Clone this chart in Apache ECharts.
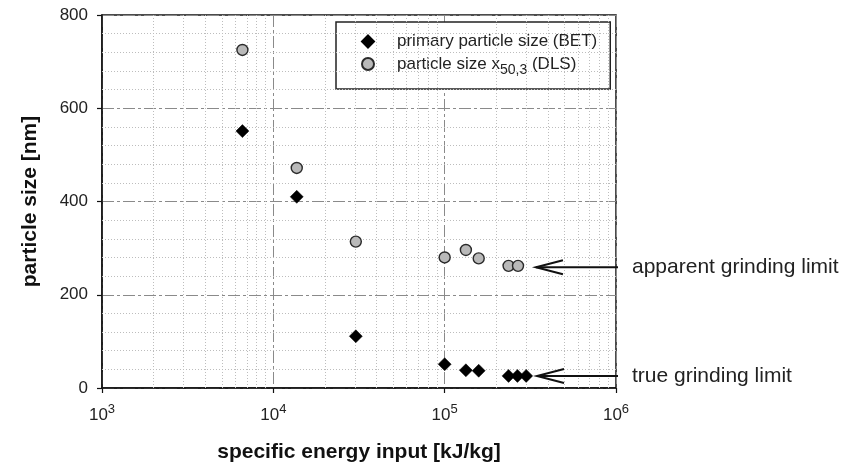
<!DOCTYPE html>
<html>
<head>
<meta charset="utf-8">
<script src="https://cdn.jsdelivr.net/npm/echarts@6/dist/echarts.min.js"></script>
<style>
  html, body { margin: 0; padding: 0; background: #fff; }
  #chart { width: 845px; height: 470px; }
</style>
</head>
<body>
<div id="chart"></div>
<script>
// Specific energy input [kJ/kg] and measured sizes [nm]
const energyBET = [6600, 13700, 30300, 100000, 133000, 158000, 236000, 266000, 299000];
const sizeBET   = [551, 410, 111, 51, 38, 37, 26, 26, 26];
const energyDLS = [6600, 13700, 30300, 100000, 133000, 158000, 236000, 268000];
const sizeDLS   = [725, 472, 314, 280, 296, 278, 262, 262];

// Axis ticks and grid positions
const xExponents = [3, 4, 5, 6];
const yTicks = [0, 200, 400, 600, 800];
const minorX = [2000, 3000, 4000, 5000, 6000, 7000, 8000, 9000,
                20000, 30000, 40000, 50000, 60000, 70000, 80000, 90000,
                200000, 300000, 400000, 500000, 600000, 700000, 800000, 900000];
const minorY = [40, 80, 120, 160, 240, 280, 320, 360, 440, 480, 520, 560, 640, 680, 720, 760];

// Annotated limits: arrow tip position [energy, size]
const limitNames = ['apparent grinding limit', 'true grinding limit'];
const limitTips = [[341000, 259], [346000, 25.7]];

const FONT = '"Liberation Sans", Arial, Helvetica, sans-serif';
const chart = echarts.init(document.getElementById('chart'), null, { renderer: 'canvas' });

const minorStyle = { color: '#bdbdbd', width: 1, type: [1, 2] };
const majorStyle = { color: '#8a8a8a', width: 1, type: [12, 3, 3, 3] };

const option = {
  animation: false,
  backgroundColor: '#fff',
  grid: {
    left: 102, right: 229, top: 15, bottom: 82,
    show: true, borderColor: '#111', borderWidth: 1.5, backgroundColor: 'transparent'
  },
  legend: {
    orient: 'vertical',
    left: 336, top: 22,
    width: 275,
    padding: [11, 13, 12, 25],
    itemGap: 4,
    itemWidth: 12, itemHeight: 12,
    borderColor: '#222', borderWidth: 1.5,
    backgroundColor: '#fff',
    data: [
      { name: 'BET', icon: 'diamond', itemStyle: { opacity: 1 } },
      { name: 'DLS', icon: 'circle', itemStyle: { opacity: 1 } }
    ],
    formatter: function (name) {
      if (name === 'BET') return '{t|primary particle size (BET)}';
      return '{t|particle size x}{sub|50,3}{t| (DLS)}';
    },
    textStyle: {
      fontFamily: FONT,
      padding: [0, 0, 0, 18],
      rich: {
        t: { fontSize: 17, color: '#222', fontFamily: FONT, lineHeight: 20 },
        sub: { fontSize: 14, color: '#222', fontFamily: FONT, verticalAlign: 'top', padding: [9, 0, 0, 0], lineHeight: 20 }
      }
    }
  },
  xAxis: {
    type: 'log',
    logBase: 10,
    min: 1000, max: 1000000,
    name: 'specific energy input [kJ/kg]',
    nameLocation: 'middle',
    nameGap: 54,
    nameTextStyle: { fontFamily: FONT, fontSize: 21, fontWeight: 'bold', color: '#111' },
    axisLine: { show: true, onZero: false, lineStyle: { color: '#111', width: 1.5 } },
    axisTick: { show: true, inside: false, length: 5, lineStyle: { color: '#111', width: 1.2 } },
    axisLabel: {
      margin: 15,
      formatter: function (v) {
        const e = Math.round(Math.log10(v));
        if (xExponents.indexOf(e) < 0) return '';
        return '{b|10}{s|' + e + '}';
      },
      rich: {
        b: { fontSize: 17, color: '#222', fontFamily: FONT, verticalAlign: 'bottom' },
        s: { fontSize: 13, color: '#222', fontFamily: FONT, verticalAlign: 'bottom', padding: [0, 0, 8, 0] }
      }
    },
    splitLine: { show: true, lineStyle: majorStyle },
    minorTick: { show: false },
    minorSplitLine: { show: false }
  },
  yAxis: {
    type: 'value',
    min: 0, max: 800, interval: 200,
    name: 'particle size [nm]',
    nameLocation: 'middle',
    nameGap: 61,
    nameRotate: 90,
    nameTextStyle: { fontFamily: FONT, fontSize: 21, fontWeight: 'bold', color: '#111' },
    axisLine: { show: true, lineStyle: { color: '#111', width: 1.5 } },
    axisTick: { show: true, inside: false, length: 5, lineStyle: { color: '#111', width: 1.2 } },
    axisLabel: {
      margin: 14,
      fontFamily: FONT, fontSize: 17, color: '#222',
      formatter: function (v) { return yTicks.indexOf(v) >= 0 ? String(v) : ''; }
    },
    splitLine: { show: true, lineStyle: majorStyle }
  },
  series: [
    {
      name: 'grid',
      type: 'line',
      data: [],
      silent: true,
      markLine: {
        silent: true,
        symbol: ['none', 'none'],
        label: { show: false },
        lineStyle: minorStyle,
        emphasis: { disabled: true },
        data: minorX.map(v => ({ xAxis: v })).concat(minorY.map(v => ({ yAxis: v })))
      },
      z: 1
    },
    {
      name: 'BET',
      type: 'scatter',
      symbol: 'diamond',
      symbolSize: 13,
      itemStyle: { color: '#000', borderColor: '#000', borderWidth: 0.5, opacity: 1 },
      data: energyBET.map((x, i) => [x, sizeBET[i]]),
      z: 5
    },
    {
      name: 'DLS',
      type: 'scatter',
      symbol: 'circle',
      symbolSize: 11,
      itemStyle: { color: '#b9b9b9', borderColor: '#2a2a2a', borderWidth: 1.4, opacity: 1 },
      data: energyDLS.map((x, i) => [x, sizeDLS[i]]),
      z: 5
    }
  ]
};

chart.setOption(option);

// Arrows pointing at the limits, with their labels to the right of the plot
function drawLimits() {
  const graphics = [];
  limitTips.forEach(function (tip, i) {
    const p = chart.convertToPixel({ gridIndex: 0 }, tip);
    const edge = chart.convertToPixel({ gridIndex: 0 }, [1000000, tip[1]]);
    const x0 = p[0], y0 = p[1];
    graphics.push({
      type: 'polyline', silent: true, z: 10,
      shape: { points: [[x0, y0], [edge[0] + 2, y0]] },
      style: { stroke: '#111', lineWidth: 2, fill: null }
    });
    graphics.push({
      type: 'polyline', silent: true, z: 10,
      shape: { points: [[x0 + 27, y0 - 7], [x0, y0], [x0 + 27, y0 + 7]] },
      style: { stroke: '#111', lineWidth: 2, fill: null }
    });
    graphics.push({
      type: 'text', silent: true, z: 10,
      x: edge[0] + 16, y: y0,
      style: {
        text: limitNames[i],
        font: '21px ' + FONT,
        fill: '#222',
        textAlign: 'left',
        textVerticalAlign: 'middle'
      }
    });
  });
  chart.setOption({ graphic: graphics });
}
drawLimits();
</script>
</body>
</html>
